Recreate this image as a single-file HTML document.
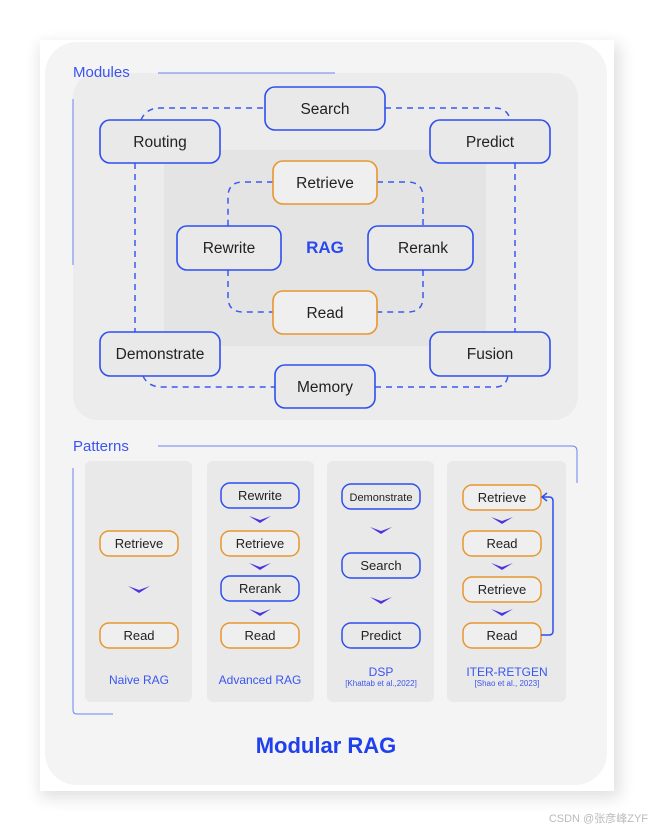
<!DOCTYPE html>
<html><head><meta charset="utf-8"><style>
html,body{margin:0;padding:0;background:#fff;}
svg{display:block;}
text{font-family:"Liberation Sans","Noto Sans CJK SC",sans-serif;}
</style></head><body>
<svg width="654" height="832" viewBox="0 0 654 832" xmlns="http://www.w3.org/2000/svg">
<defs>
<filter id="sh" x="-10%" y="-10%" width="120%" height="120%"><feGaussianBlur stdDeviation="8"/></filter>
<g id="chev"><path d="M-11,-3 L0,1 L11,-3 L0,4 Z" fill="#4a35e0"/></g>
</defs>
<rect x="40" y="44" width="580" height="754" fill="#000" opacity="0.12" filter="url(#sh)"/>
<rect x="40" y="40" width="574" height="751" fill="#fff"/>
<rect x="45" y="42" width="562" height="743" rx="32" fill="#f4f4f4"/>
<!-- modules panel -->
<rect x="73" y="73" width="505" height="347" rx="24" fill="#ececec"/>
<rect x="164" y="150" width="322" height="196" fill="#e4e4e4"/>
<text x="73" y="77" font-size="15" fill="#3a55f0">Modules</text>
<line x1="158" y1="73" x2="335" y2="73" stroke="#6a85f5" stroke-width="1"/>
<line x1="73" y1="99" x2="73" y2="265" stroke="#6a85f5" stroke-width="1"/>
<!-- dashed outer -->
<g fill="none" stroke="#3a5af0" stroke-width="1.5" stroke-dasharray="6,5">
<path d="M141,120 Q146,108 160,108 L265,108"/>
<path d="M385,108 L495,108 Q507,108 510,119"/>
<path d="M135,163 L135,332"/>
<path d="M515,163 L515,332"/>
<path d="M143,376 Q148,387 162,387 L275,387"/>
<path d="M375,387 L495,387 Q506,387 508,376"/>
<path d="M273,182 L243,182 Q228,182 228,197 L228,226"/>
<path d="M377,182 L407,182 Q423,182 423,197 L423,226"/>
<path d="M228,270 L228,297 Q228,312 243,312 L273,312"/>
<path d="M423,270 L423,297 Q423,312 408,312 L377,312"/>
</g>
<g font-size="15.5" fill="#222" text-anchor="middle">
<rect x="265" y="87" width="120" height="43" rx="10" fill="#e9e9e9" stroke="#2e4ff0" stroke-width="1.6"/><text x="325" y="114">Search</text>
<rect x="100" y="120" width="120" height="43" rx="10" fill="#e9e9e9" stroke="#2e4ff0" stroke-width="1.6"/><text x="160" y="147">Routing</text>
<rect x="430" y="120" width="120" height="43" rx="10" fill="#e9e9e9" stroke="#2e4ff0" stroke-width="1.6"/><text x="490" y="147">Predict</text>
<rect x="273" y="161" width="104" height="43" rx="10" fill="#efefef" stroke="#e8962e" stroke-width="1.6"/><text x="325" y="188">Retrieve</text>
<rect x="177" y="226" width="104" height="44" rx="10" fill="#e9e9e9" stroke="#2e4ff0" stroke-width="1.6"/><text x="229" y="253">Rewrite</text>
<rect x="368" y="226" width="105" height="44" rx="10" fill="#e9e9e9" stroke="#2e4ff0" stroke-width="1.6"/><text x="423" y="253">Rerank</text>
<rect x="273" y="291" width="104" height="43" rx="10" fill="#efefef" stroke="#e8962e" stroke-width="1.6"/><text x="325" y="318">Read</text>
<rect x="100" y="332" width="120" height="44" rx="10" fill="#e9e9e9" stroke="#2e4ff0" stroke-width="1.6"/><text x="160" y="359">Demonstrate</text>
<rect x="430" y="332" width="120" height="44" rx="10" fill="#e9e9e9" stroke="#2e4ff0" stroke-width="1.6"/><text x="490" y="359">Fusion</text>
<rect x="275" y="365" width="100" height="43" rx="10" fill="#e9e9e9" stroke="#2e4ff0" stroke-width="1.6"/><text x="325" y="392">Memory</text>
</g>
<text x="325" y="253" font-size="17" font-weight="bold" fill="#2a48ee" text-anchor="middle">RAG</text>
<!-- patterns -->
<text x="73" y="451" font-size="15" fill="#3a55f0">Patterns</text>
<path d="M158,446 L572,446 Q577,446 577,451 L577,483" fill="none" stroke="#6a85f5" stroke-width="1"/>
<path d="M73,468 L73,710 Q73,714 77,714 L113,714" fill="none" stroke="#6a85f5" stroke-width="1"/>
<rect x="85" y="461" width="107" height="241" rx="6" fill="#e9e9e9"/>
<rect x="207" y="461" width="107" height="241" rx="6" fill="#e9e9e9"/>
<rect x="327" y="461" width="107" height="241" rx="6" fill="#e9e9e9"/>
<rect x="447" y="461" width="119" height="241" rx="6" fill="#e9e9e9"/>
<g font-size="13" fill="#222" text-anchor="middle" stroke-width="1.5">
<rect x="100" y="531" width="78" height="25" rx="9" fill="#efefef" stroke="#e8962e"/><text x="139" y="548">Retrieve</text>
<rect x="100" y="623" width="78" height="25" rx="9" fill="#efefef" stroke="#e8962e"/><text x="139" y="640">Read</text>
<rect x="221" y="483" width="78" height="25" rx="9" fill="#e9e9e9" stroke="#2e4ff0"/><text x="260" y="500">Rewrite</text>
<rect x="221" y="531" width="78" height="25" rx="9" fill="#efefef" stroke="#e8962e"/><text x="260" y="548">Retrieve</text>
<rect x="221" y="576" width="78" height="25" rx="9" fill="#e9e9e9" stroke="#2e4ff0"/><text x="260" y="593">Rerank</text>
<rect x="221" y="623" width="78" height="25" rx="9" fill="#efefef" stroke="#e8962e"/><text x="260" y="640">Read</text>
<rect x="342" y="484" width="78" height="25" rx="9" fill="#e9e9e9" stroke="#2e4ff0"/><text x="381" y="501" font-size="11">Demonstrate</text>
<rect x="342" y="553" width="78" height="25" rx="9" fill="#e9e9e9" stroke="#2e4ff0"/><text x="381" y="570">Search</text>
<rect x="342" y="623" width="78" height="25" rx="9" fill="#e9e9e9" stroke="#2e4ff0"/><text x="381" y="640">Predict</text>
<rect x="463" y="485" width="78" height="25" rx="9" fill="#efefef" stroke="#e8962e"/><text x="502" y="502">Retrieve</text>
<rect x="463" y="531" width="78" height="25" rx="9" fill="#efefef" stroke="#e8962e"/><text x="502" y="548">Read</text>
<rect x="463" y="577" width="78" height="25" rx="9" fill="#efefef" stroke="#e8962e"/><text x="502" y="594">Retrieve</text>
<rect x="463" y="623" width="78" height="25" rx="9" fill="#efefef" stroke="#e8962e"/><text x="502" y="640">Read</text>
</g>
<use href="#chev" x="139" y="589"/>
<use href="#chev" x="260" y="519"/><use href="#chev" x="260" y="566"/><use href="#chev" x="260" y="612"/>
<use href="#chev" x="381" y="530"/><use href="#chev" x="381" y="600"/>
<use href="#chev" x="502" y="520"/><use href="#chev" x="502" y="566"/><use href="#chev" x="502" y="612"/>
<path d="M541,635 L549,635 Q553,635 553,631 L553,501 Q553,497 549,497 L543,497" fill="none" stroke="#2e4ff0" stroke-width="1.5"/>
<path d="M547,493 L542,497 L547,501" fill="none" stroke="#2e4ff0" stroke-width="1.5"/>
<g fill="#3a55f0" text-anchor="middle">
<text x="139" y="684" font-size="12">Naive RAG</text>
<text x="260" y="684" font-size="12">Advanced RAG</text>
<text x="381" y="676" font-size="12">DSP</text>
<text x="381" y="686" font-size="8">[Khattab et al.,2022]</text>
<text x="507" y="676" font-size="12">ITER-RETGEN</text>
<text x="507" y="686" font-size="8">[Shao et al., 2023]</text>
</g>
<text x="326" y="753" font-size="22" font-weight="bold" fill="#2040ee" text-anchor="middle">Modular RAG</text>
<text x="648" y="822" font-size="11" fill="#bbb" text-anchor="end">CSDN @张彦峰ZYF</text>
</svg>
</body></html>
